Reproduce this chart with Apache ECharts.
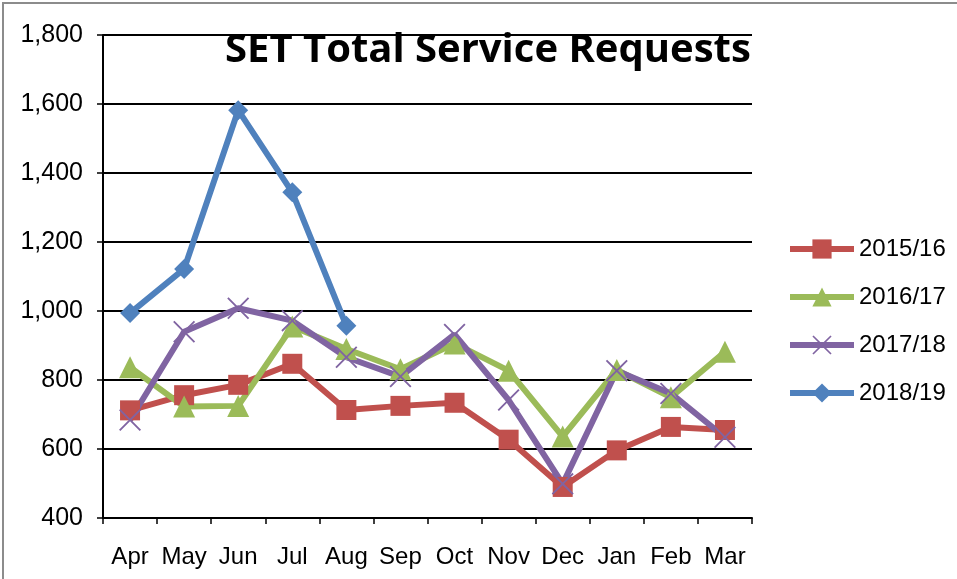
<!DOCTYPE html>
<html>
<head>
<meta charset="utf-8">
<script src="https://cdn.jsdelivr.net/npm/echarts@6/dist/echarts.min.js"></script>
<style>
  html, body { margin: 0; padding: 0; background: #fff; }
  #main { width: 957px; height: 579px; }
</style>
</head>
<body>
<div id="main"></div>
<script>
var chart = echarts.init(document.getElementById('main'));

// months of the fiscal year
var months = ['Apr', 'May', 'Jun', 'Jul', 'Aug', 'Sep', 'Oct', 'Nov', 'Dec', 'Jan', 'Feb', 'Mar'];

var fy1516 = [712, 756, 786, 847, 713, 725, 734, 627, 490, 596, 664, 655];
var fy1617 = [837, 723, 725, 955, 890, 831, 906, 827, 636, 829, 750, 882];
var fy1718 = [684, 940, 1008, 972, 866, 810, 932, 742, 499, 827, 761, 634];
var fy1819 = [994, 1122, 1582, 1344, 957];

// colours (office palette)
var red = '#C0504D', green = '#9BBB59', purple = '#8064A2', blue = '#4F81BD';

var crossPath = 'path://M0,1.2L1.2,0L10,8.8L18.8,0L20,1.2L11.2,10L20,18.8L18.8,20L10,11.2L1.2,20L0,18.8L8.8,10Z';
var fontFam = 'Liberation Sans, Arial, sans-serif';

function mkSeries(name, data, color, symbol, size) {
    return {
        name: name,
        type: 'line',
        data: data,
        symbol: symbol,
        symbolSize: size,
        lineStyle: { color: color, width: 6 },
        itemStyle: { color: color },
        emphasis: { disabled: true },
        animation: false
    };
}

var option = {
    graphic: [{
        type: 'rect',
        shape: { x: 3, y: 3, width: 1000, height: 700 },
        style: { fill: 'none', stroke: '#8c8c8c', lineWidth: 2 }
    }],
    title: {
        text: 'SET Total Service Requests',
        left: 220,
        top: 26,
        textStyle: {
            fontFamily: 'Open Sans, sans-serif',
            fontWeight: 'bold',
            fontSize: 40,
            color: '#000'
        }
    },
    legend: {
        orient: 'vertical',
        left: 782,
        top: 232,
        itemWidth: 64,
        itemHeight: 24,
        itemGap: 24,
        lineStyle: { width: 6 },
        textStyle: { fontFamily: fontFam, fontSize: 24, lineHeight: 24, color: '#000' },
        data: ['2015/16', '2016/17', '2017/18', '2018/19']
    },
    grid: { left: 103, right: 205, top: 35, bottom: 61 },
    xAxis: {
        type: 'category',
        data: months,
        boundaryGap: true,
        axisLine: { lineStyle: { color: '#000', width: 2 } },
        axisTick: { show: true, interval: 0, length: 6, lineStyle: { color: '#000', width: 1.5 } },
        axisLabel: { color: '#000', fontSize: 24, interval: 0, margin: 27, fontFamily: fontFam }
    },
    yAxis: {
        type: 'value',
        min: 400,
        max: 1800,
        interval: 200,
        axisLine: { show: true, lineStyle: { color: '#000', width: 2 } },
        axisTick: { show: true, length: 6, lineStyle: { color: '#000', width: 1.5 } },
        splitLine: { lineStyle: { color: '#000', width: 2 } },
        axisLabel: {
            color: '#000', fontSize: 25, margin: 20, fontFamily: fontFam,
            formatter: function (v) { return v.toLocaleString('en-US'); }
        }
    },
    series: [
        mkSeries('2015/16', fy1516, red, 'rect', 20),
        mkSeries('2016/17', fy1617, green, 'triangle', 22),
        mkSeries('2017/18', fy1718, purple, crossPath, 22),
        mkSeries('2018/19', fy1819, blue, 'diamond', 20)
    ]
};

chart.setOption(option);
</script>
</body>
</html>
